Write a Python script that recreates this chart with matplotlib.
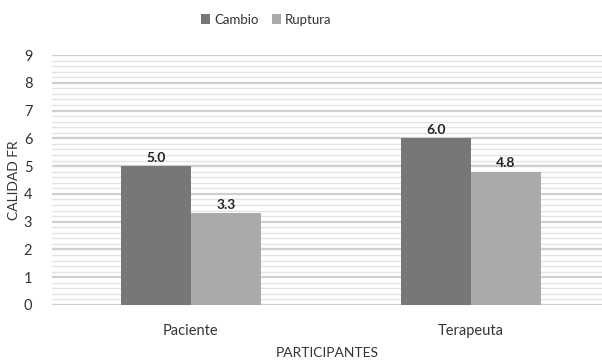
import numpy as np
import matplotlib.pyplot as plt
from matplotlib.ticker import MultipleLocator

plt.rcParams['font.family'] = ['Lato', 'DejaVu Sans']

participantes = ['Paciente', 'Terapeuta']
cambio = [5.0, 6.0]
ruptura = [3.3, 4.8]

fig = plt.figure(figsize=(6.02, 3.6), dpi=100)
ax = fig.add_axes([0.086, 0.153, 0.914, 0.694])

x = np.arange(len(participantes))
w = 0.25
b1 = ax.bar(x - w / 2, cambio, w, color='#777777', label='Cambio', zorder=3)
b2 = ax.bar(x + w / 2, ruptura, w, color='#aaaaaa', label='Ruptura', zorder=3)

for bars in (b1, b2):
    for r in bars:
        ax.text(r.get_x() + r.get_width() / 2, r.get_height() + 0.08, f'{r.get_height():.1f}',
                ha='center', va='bottom', fontsize=10, fontweight='bold', color='#222222')

ax.set_xlim(-0.496, 1.468)
ax.set_ylim(0, 9)
ax.yaxis.set_major_locator(MultipleLocator(1))
ax.yaxis.set_minor_locator(MultipleLocator(0.2))
ax.grid(axis='y', which='major', color='#cfcfcf', linewidth=1.6, zorder=0)
ax.grid(axis='y', which='minor', color='#e4e4e4', linewidth=1.0, zorder=0)
ax.set_xticks(x)
ax.set_xticklabels(participantes)
ax.tick_params(axis='both', which='both', length=0, labelsize=10.5, colors='#333333')
ax.tick_params(axis='x', pad=14)
ax.tick_params(axis='y', pad=14)
for s in ax.spines.values():
    s.set_visible(False)

ax.set_xlabel('PARTICIPANTES', fontsize=10, color='#333333', labelpad=6)
ax.set_ylabel('CALIDAD FR', fontsize=10, color='#333333', labelpad=3)

fig.legend(loc='upper center', bbox_to_anchor=(0.442, 0.995), ncol=2, frameon=False,
           fontsize=9.5, handlelength=0.7, handleheight=0.7, handletextpad=0.3,
           columnspacing=1.0, labelcolor='#333333')

fig.savefig('out.png', dpi=100)
